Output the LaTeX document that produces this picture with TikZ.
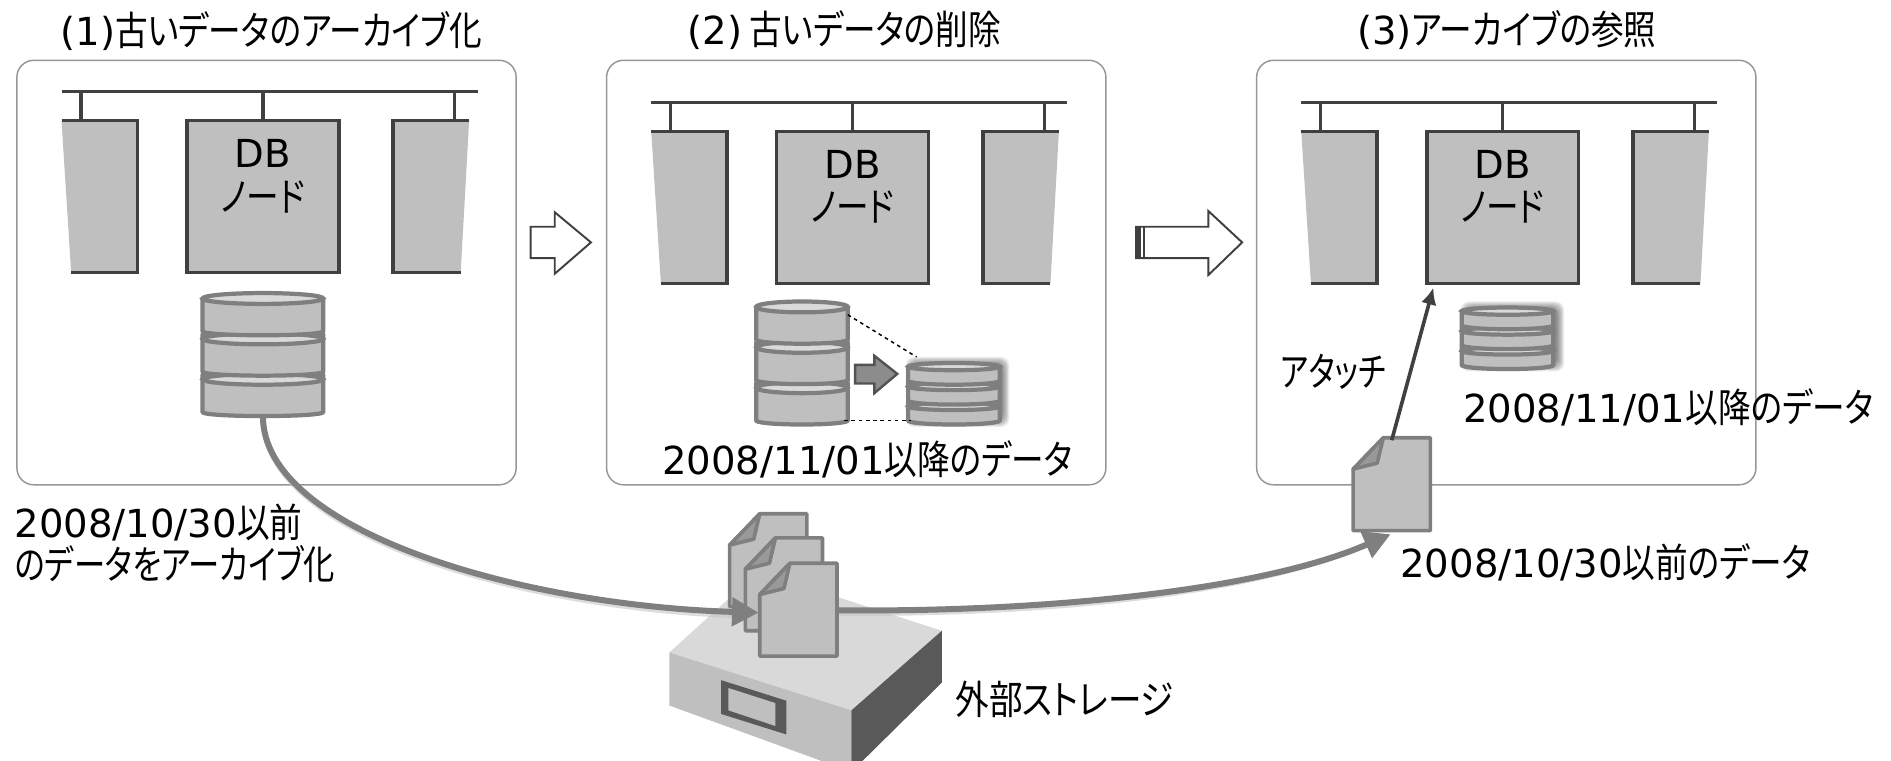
\documentclass[tikz,border=0pt]{standalone}
\usepackage{fontspec}
\setmainfont{Noto Sans CJK JP}[RawFeature=+palt,FakeStretch=0.82]
\newfontfamily\latinface{DejaVu Sans}
\usetikzlibrary{arrows.meta,calc}
\definecolor{nodegray}{HTML}{BFBFBF}
\definecolor{linedark}{HTML}{404040}
\definecolor{stackline}{HTML}{7F7F7F}
\definecolor{panelline}{HTML}{969696}
\newcommand{\dated}[1]{{\latinface\fontsize{32}{34}\selectfont #1}}
\tikzset{
	panelbox/.style={draw=panelline,line width=1.2pt,rounded corners=14pt},
	dbbox/.style={draw=linedark,line width=3pt,fill=nodegray,minimum width=126pt,minimum height=126pt,inner sep=0pt},
	busline/.style={draw=linedark,line width=3pt},
	txt/.style={inner sep=0pt,font=\fontsize{33}{36}\selectfont,text=black},
	hollowarrow/.style={draw=linedark,line width=1.6pt,fill=white},
	stackdisc/.style={draw=stackline,line width=3.5pt,fill=nodegray,line join=round},
	stacktop/.style={draw=stackline,line width=3.5pt,fill=gray!30},
	flowline/.style={draw=stackline,line width=5pt,-{Triangle[length=22pt,width=23pt]}},
	flowshade/.style={draw=gray!45,line width=3pt,opacity=0.6},
	filedoc/.pic={
		\draw[stackdisc,line width=3pt] (25,0) -- (64,0) -- (64,77) -- (0,77) -- (0,26) -- cycle;
		\draw[stackdisc,line width=3pt,fill=gray!80] (25,0) -- (20,21) -- (0,26) -- cycle;
		\coordinate (-top) at (32,0);
		\coordinate (-right) at (64,40);
		\coordinate (-bottom) at (32,79);
	}
}
\begin{document}
\begin{tikzpicture}[x=1pt,y=-1pt]
	\useasboundingbox (0,0) rectangle (1568,631);
	\clip (0,0) rectangle (1568,631);
	\draw[panelbox] (14,50) rectangle (428,402);
	\draw[panelbox] (503,50) rectangle (917,402);
	\draw[panelbox] (1042,50) rectangle (1456,402);

	\foreach \dx/\dy/\name in {0/0/One,489/9/Two,1028/9/Three}{% one cluster in each panel
		\begin{scope}[shift={(\dx,\dy)}]
			\coordinate (Bus\name) at (218,76);
			\fill[nodegray] (51,100) -- (114,100) -- (114,226) -- (59,226) -- cycle;
			\fill[nodegray] (326,100) -- (389,100) -- (382,226) -- (326,226) -- cycle;
			\draw[busline,line join=miter] (51,100) -- (114,100) -- (114,226) -- (59,226);
			\draw[busline,line join=miter] (389,100) -- (326,100) -- (326,226) -- (382,226);
			\node[dbbox] (Db\name) at (218,163) {};
			\node[txt] (DbText\name) at (218,127) {\dated{DB}};
			\node[txt] (NodeText\name) at (218,163) {ノード};
			\draw[busline] (51,76) -- (396,76);
			\draw[busline] (67,76) -- (67,100);
			\draw[busline] (Bus\name) -- (Db\name.north);
			\draw[busline] (377,76) -- (377,100);
		\end{scope}
	}

	% soft shadow below the two small stacks
	\foreach \sx/\sy in {752/300,1212/254}{
		\foreach \s in {0,1,...,7}{
			\fill[black,opacity=0.07,rounded corners=7pt] (\sx-1+0.8*\s,\sy-4+0.8*\s) rectangle (\sx+85-0.8*\s,\sy+54-0.8*\s);
		}
	}

	% stacks of three discs, lowest disc first
	\foreach \cx/\cy/\hw/\dh/\ry/\pitch/\stackname in {218/243/50/35/4.5/33.5/StackOne,665/250/38/35/4.5/33.5/StackTwo,791/301/38/18/3/16.5/SmallTwo,1250/255/38/18/3/16.5/SmallThree}{
		\begin{scope}[shift={(\cx,\cy)}]
			\coordinate (\stackname) at (0,2*\pitch+\dh);
			\foreach \k in {2,1,0}{
				\pgfmathsetmacro\topy{\k==0 ? \ry : \k*\pitch+\ry-4}
				\draw[stackdisc] (-\hw,\topy) -- (-\hw,\k*\pitch+\dh-3) .. controls (-\hw+6,\k*\pitch+\dh+1) and (\hw-6,\k*\pitch+\dh+1) .. (\hw,\k*\pitch+\dh-3) -- (\hw,\topy) -- cycle;
				\draw[stacktop] (0,\k*\pitch+\ry) ellipse [x radius=\hw,y radius=\ry];
			}
		\end{scope}
	}

	\draw[black,line width=1.2pt,dashed] (703,261) -- (760,296);
	\draw[black,line width=1.2pt,dashed] (700,348.5) -- (755,348.5);
	\draw[draw=gray!65!black,line width=2pt,fill=gray!90] (709,302.5) -- (725,302.5) -- (725,295) -- (744,310) -- (725,326) -- (725,318) -- (709,318) -- cycle;

	% hollow arrows between the panels
	\draw[hollowarrow] (440,188) -- (460,188) -- (460,176) -- (490,201) -- (460,227) -- (460,214) -- (440,214) -- cycle;
	\draw[hollowarrow] (942,188) -- (1002,188) -- (1002,175) -- (1030,201) -- (1002,228) -- (1002,214) -- (942,214) -- cycle;
	\fill[linedark] (941,187) rectangle (946,215);
	\draw[linedark,line width=1pt] (948.5,188) -- (948.5,214);

	% external storage
	\fill[gray!30] (555,541) -- (629,474) -- (781,523) -- (706,589) -- cycle;
	\fill[nodegray] (555,541) -- (706,589) -- (706,640) -- (555,585) -- cycle;
	\fill[black!65] (706,589) -- (781,523) -- (781,566) -- (706,640) -- cycle;
	\fill[black!65] (598,564) -- (652,581) -- (652,609) -- (598,592) -- cycle;
	\fill[nodegray] (604,570.5) -- (643,583) -- (643,602) -- (604,589) -- cycle;

	\pic (DocA) at (605,426) {filedoc};
	\pic (DocB) at (618,446) {filedoc};
	\coordinate (DocIn) at (629,508);
	\coordinate (DocOut) at (694,506);
	\coordinate (AttachDoc) at (1153,443);
	\draw[flowshade] ([yshift=-3pt]StackOne) .. controls (218,443) and (430,505) .. (610,511);
	\draw[flowshade] (694,509) .. controls (850,511) and (1040,495) .. (1135,451);
	\draw[flowline] (StackOne) .. controls (218,440) and (430,502) .. (DocIn);
	\draw[flowline] (DocOut) .. controls (850,508) and (1040,492) .. (AttachDoc);
	\pic (DocC) at (630,467) {filedoc};
	\pic (DocD) at (1122,363) {filedoc};
	\draw[draw=linedark,line width=3pt,-{Latex[length=14pt,width=13pt]}] ($(DocD-top)+(0,2)$) -- ($(DbThree.south west)+(7,2)$);

	\node[txt,anchor=west] (TitleOne) at (50,26) {\dated{(1)}古いデータのアーカイブ化};
	\node[txt,anchor=west] (TitleTwo) at (570,25) {\dated{(2)} 古いデータの削除};
	\node[txt,anchor=west] (TitleThree) at (1125,25) {\dated{(3)}アーカイブの参照};
	\node[txt,anchor=west] (NewTwo) at (549,381) {\dated{2008/11/01}以降のデータ};
	\node[txt,anchor=west] (NewThree) at (1213,338) {\dated{2008/11/01}以降のデータ};
	\node[txt,anchor=west] (OldThree) at (1161,466) {\dated{2008/10/30}以前のデータ};
	\node[txt,anchor=west] (OldOne) at (12,433) {\dated{2008/10/30}以前};
	\node[txt,anchor=west,xscale=0.96,transform shape] (OldOneB) at (12,468) {のデータをアーカイブ化};
	\node[txt,anchor=west,xscale=0.92,transform shape] (AttachText) at (1062,308) {アタッチ};
	\node[txt,anchor=west,xscale=1.03,transform shape] (StorageText) at (792,580) {外部ストレージ};
\end{tikzpicture}
\end{document}
